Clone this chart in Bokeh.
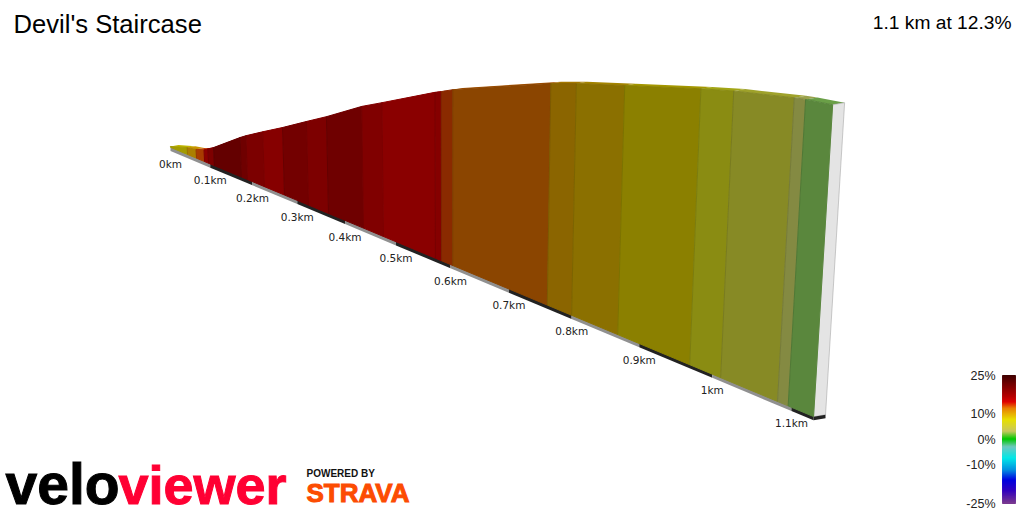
from bokeh.plotting import figure
from bokeh.models import Range1d
from bokeh.core.properties import value
from bokeh.embed import file_html
from bokeh.resources import INLINE
import numpy as np

TITLE = "Devil's Staircase"
SUMMARY = "1.1 km at 12.3%"

# segment boundaries along the climb (km) and elevation gained there (m)
distance_km = [0, .0435, .066, .086, .0957, .110, .1746, .1885, .2274, .272, .324, .366,
               .437, .476, .573, .584, .604, .762, .80, .869, .970, 1.011, 1.083, 1.096, 1.1265]
elevation_m = [1.3, 5.1, 6.3, 8.1, 9.7, 12.0, 24.8, 27.3, 33.6, 40.6, 49.3, 56.2,
               68.9, 74.7, 89.5, 90.9, 93.8, 111.6, 115.0, 120.4, 128.2, 131.0, 134.7, 135.2, 135.8]
segment_colors = ["#a39b00", "#ab7f00", "#a83c00", "#8d0000", "#7d0000", "#640000", "#6f0000", "#7c0000",
                  "#860000", "#730000", "#7d0000", "#6f0000", "#800000", "#8a0000", "#850000", "#8a2a00",
                  "#8b4500", "#8b6500", "#8b7000", "#8b8000", "#8a8c12", "#878a25", "#848a42", "#5a873d"]
tick_km = [0, .1, .2, .3, .4, .5, .6, .7, .8, .9, 1.0, 1.1]
tick_labels = ["0km", "0.1km", "0.2km", "0.3km", "0.4km", "0.5km", "0.6km", "0.7km", "0.8km", "0.9km", "1km", "1.1km"]

legend_values = [25, 10, 0, -10, -25]
legend_labels = ["25%", "10%", "0%", "-10%", "-25%"]
ramp_values = [25, 21, 16, 14.5, 12, 7.5, 3, 0, -3, -7.5, -12, -16, -20, -25]
ramp_colors = ["#3d0000", "#7a0000", "#c00000", "#e00000", "#e88000", "#e8e000", "#c8c860", "#00c800",
               "#70c8c0", "#00e8e8", "#0090e0", "#0000e0", "#3000c0", "#7a3a90"]


# perspective projection of the climb's wall onto the page
def persp(d):
    return 1 / (1 - 0.287 * np.asarray(d, float))


def base_x(d):
    return (170 + 337.5 * np.asarray(d, float)) * persp(d)


def base_y(d):
    return 148 + 0.4187 * (base_x(d) - 170)


def top_point(d, m):
    h = np.asarray(m, float) * 1.56 * persp(d)
    xb = base_x(d)
    return xb + 0.000168 * (xb - 450) * h, base_y(d) - h


def brighten(hex_color, f):
    rgb = [int(hex_color[i:i + 2], 16) for i in (1, 3, 5)]
    return "#%02x%02x%02x" % tuple(min(255, int(c * f)) for c in rgb)


p = figure(width=1024, height=512, x_range=Range1d(0, 1024), y_range=Range1d(512, 0),
           output_backend="svg", toolbar_location=None, min_border=0,
           x_axis_location=None, y_axis_location=None, outline_line_color=None)
p.grid.visible = False

d = np.array(distance_km)
m = np.array(elevation_m)
tx, ty = top_point(d, m)
bx, by = base_x(d), base_y(d)
dx, dy = 8.1 * persp(d), -1.35 * persp(d)

# top surface
p.patches([[tx[i], tx[i + 1], tx[i + 1] + dx[i + 1], tx[i] + dx[i]] for i in range(len(d) - 1)],
          [[ty[i], ty[i + 1], ty[i + 1] + dy[i + 1], ty[i] + dy[i]] for i in range(len(d) - 1)],
          fill_color=[brighten(c, 1.18) for c in segment_colors], line_color=None)

# end face
p.patch([tx[-1], tx[-1] + dx[-1], bx[-1] + dx[-1], bx[-1]], [ty[-1], ty[-1] + dy[-1], by[-1] + dy[-1] - 1, by[-1] - 1],
        fill_color="#e4e4e4", line_color="#a8a8a8", line_width=0.6)

# base strip, alternating every 100 m
edges = tick_km + [distance_km[-1]]
for i in range(len(edges) - 1):
    a, b = edges[i], edges[i + 1]
    col = "#909090" if i % 2 == 0 else "#222222"
    p.patch([base_x(a), base_x(b), base_x(b), base_x(a)],
            [base_y(a) - 2, base_y(b) - 2, base_y(b) + 2.5, base_y(a) + 2.5], fill_color=col, line_color=None)
p.patch([bx[-1], bx[-1] + dx[-1], bx[-1] + dx[-1], bx[-1]],
        [by[-1] - 1, by[-1] + dy[-1] - 1, by[-1] + dy[-1] + 2.5, by[-1] + 2.5], fill_color="#222222", line_color=None)

# front wall, painted left to right so each piece overlaps the seam
for i in range(len(d) - 1):
    p.patch([bx[i], tx[i], tx[i + 1], bx[i + 1]], [by[i] - 1.2, ty[i], ty[i + 1], by[i + 1] - 1.2],
            fill_color=segment_colors[i], line_color=segment_colors[i], line_width=1)
p.segment(bx[1:-1], by[1:-1] - 1.2, tx[1:-1], ty[1:-1], line_color="#000000", line_alpha=0.1, line_width=1)

# distance labels
t = np.array(tick_km)
p.text(base_x(t), base_y(t) + 15, text=tick_labels, text_font=value("DejaVu Sans"), text_font_size="10.5px",
       text_align="center", text_baseline="middle", text_color="#222222")

# titles
p.text([13], [23], text=[TITLE], text_font=value("Liberation Sans"), text_font_size="25.6px",
       text_baseline="middle", text_color="#000000")
p.text([1011], [22], text=[SUMMARY], text_font=value("Liberation Sans"), text_font_size="19.2px",
       text_align="right", text_baseline="middle", text_color="#000000")

# gradient legend
edges_v = np.linspace(25, -25, 128)
rv = np.array(ramp_values)[::-1]
rgb = np.array([[int(c[i:i + 2], 16) for i in (1, 3, 5)] for c in ramp_colors])[::-1]
mid = (edges_v[:-1] + edges_v[1:]) / 2
cols = ["#%02x%02x%02x" % tuple(int(np.interp(v, rv, rgb[:, k])) for k in range(3)) for v in mid]


def legend_y(v):
    return 375 + (25 - np.asarray(v, float)) * 2.56


p.quad(left=1002, right=1015, top=legend_y(edges_v[:-1]), bottom=legend_y(edges_v[1:]), fill_color=cols, line_color=cols, line_width=1)
p.text([995] * 5, legend_y(legend_values), text=legend_labels, text_font=value("Liberation Sans"), text_font_size="12.5px",
       text_align="right", text_baseline="middle", text_color="#222222")

# wordmarks
p.text([5], [483], text=["velo"], text_font=value("Liberation Sans"), text_font_size="57px", text_font_style="bold",
       text_baseline="middle", text_color="#000000", text_outline_color="#000000")
p.text([118], [484], text=["viewer"], text_font=value("Liberation Sans"), text_font_size="54px", text_font_style="bold",
       text_baseline="middle", text_color="#ff0033", text_outline_color="#ff0033")
p.text([306], [473], text=["POWERED BY"], text_font=value("Liberation Sans"), text_font_size="10px", text_font_style="bold",
       text_baseline="middle", text_color="#111111")
p.text([306], [492.5], text=["STRAVA"], text_font=value("Liberation Sans"), text_font_size="26px", text_font_style="bold",
       text_baseline="middle", text_color="#fc4c02", text_outline_color="#fc4c02")

open("out.html", "w").write(file_html(p, INLINE))
